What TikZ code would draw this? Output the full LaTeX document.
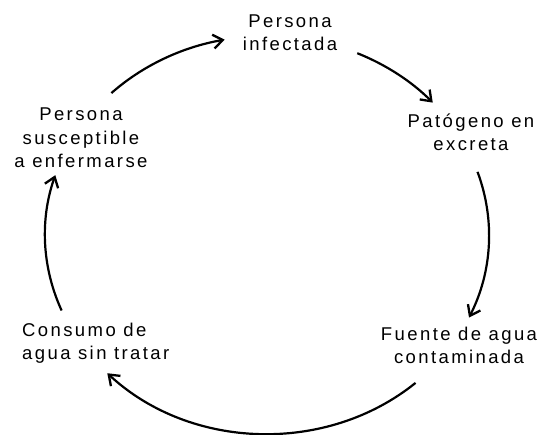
\documentclass[tikz,border=0pt]{standalone}
\usepackage{fontspec}
\setmainfont{Liberation Sans}[LetterSpace=13]
\usetikzlibrary{arrows.meta,calc}
\tikzset{
  lbl/.style={font=\fontsize{18.5}{23.5}\selectfont, text=black, inner sep=0pt, anchor=base},
  arr/.style={line width=2.2pt, -{Straight Barb[length=9.5pt,width=14pt,line width=2.3pt]}},
}
\begin{document}
\begin{tikzpicture}[x=1pt,y=-1pt]
\useasboundingbox (0,0) rectangle (541,435);
\node[lbl, align=center] (inf) at (290,51) {Persona\\infectada};
\node[lbl, align=center] (pat) at (471,151) {Patógeno en\\excreta};
\node[lbl, align=center] (fue) at (459,364) {Fuente de agua\\contaminada};
\node[lbl, align=left, anchor=base west] (con) at (22,360) {Consumo de\\agua sin tratar};
\node[lbl, align=center] (sus) at (81,168) {Persona\\susceptible\\a enfermarse};
\coordinate (O) at (267,235);
\coordinate (s1) at ($(O)+(-134.5:222 and 199)$);
\coordinate (s2) at ($(O)+(-66:222 and 199)$);
\coordinate (s3) at ($(O)+(-18.5:222 and 199)$);
\coordinate (s4) at ($(O)+(48:222 and 199)$);
\coordinate (s5) at ($(O)+(157.7:222 and 199)$);
\draw[arr] (s1) arc[start angle=-134.5, end angle=-101, x radius=222, y radius=199];
\draw[arr] (s2) arc[start angle=-66, end angle=-41.7, x radius=222, y radius=199];
\draw[arr] (s3) arc[start angle=-18.5, end angle=24.5, x radius=222, y radius=199];
\draw[arr] (s4) arc[start angle=48, end angle=136, x radius=222, y radius=199];
\draw[arr] (s5) arc[start angle=157.7, end angle=197.5, x radius=222, y radius=199];
\end{tikzpicture}
\end{document}
